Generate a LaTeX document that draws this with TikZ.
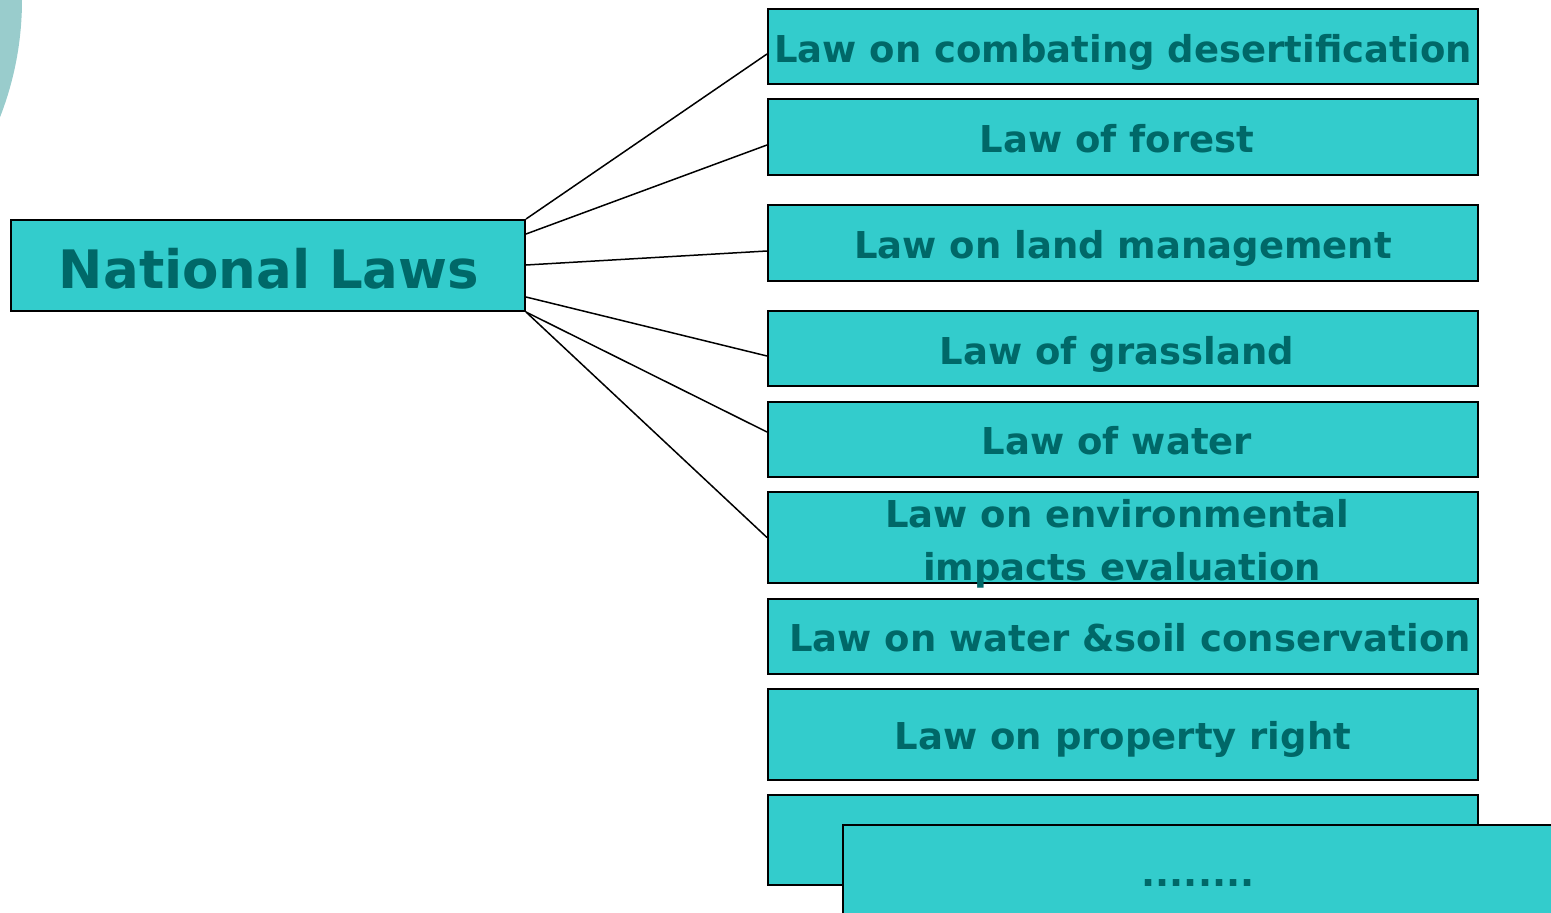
\documentclass[tikz,border=0pt]{standalone}
\usepackage{fontspec}
\setmainfont{DejaVu Sans}
\definecolor{boxfill}{RGB}{51,204,204}
\definecolor{boxtext}{RGB}{0,104,104}
\definecolor{circfill}{RGB}{153,204,204}
\begin{document}
\begin{tikzpicture}[x=1pt,y=-1pt,
  lawbox/.style={draw=black,line width=2pt,fill=boxfill,minimum width=710pt,inner sep=0pt,anchor=center},
  lawtext/.style={text=boxtext,font=\fontsize{37}{53}\selectfont\bfseries,inner sep=0pt,align=center,anchor=base},
  link/.style={draw=black,line width=1.5pt}]
\useasboundingbox (0,0) rectangle (1551,913);
\fill[circfill] (-300,0) circle (322);
\node[lawbox,minimum width=514pt,minimum height=91pt] (nl) at (268,265.5) {};
\node[lawtext,font=\fontsize{53}{60}\selectfont\bfseries] (nlt) at (269,288) {National Laws};
\node[lawbox,minimum height=75pt] (b1) at (1123,46.5) {};
\node[lawbox,minimum height=76pt] (b2) at (1123,137) {};
\node[lawbox,minimum height=76pt] (b3) at (1123,243) {};
\node[lawbox,minimum height=75pt] (b4) at (1123,348.5) {};
\node[lawbox,minimum height=75pt] (b5) at (1123,439.5) {};
\node[lawbox,minimum height=91pt] (b6) at (1123,537.5) {};
\node[lawbox,minimum height=75pt] (b7) at (1123,636.5) {};
\node[lawbox,minimum height=91pt] (b8) at (1123,734.5) {};
\node[lawbox,minimum height=90pt] (b9) at (1123,840) {};
\node[lawbox,minimum height=90pt,minimum width=720pt] (b10) at (1203,870) {};
\node[lawtext] (t1) at (1123,62) {Law on combating desertification};
\node[lawtext] (t2) at (1117,152) {Law of forest};
\node[lawtext] (t3) at (1123,258) {Law on land management};
\node[lawtext] (t4) at (1117,364) {Law of grassland};
\node[lawtext] (t5) at (1117,454) {Law of water};
\node[lawtext] (t6a) at (1117,527) {Law on environmental};
\node[lawtext] (t6b) at (1122,580) {impacts evaluation};
\node[lawtext] (t7) at (1130,651) {Law on water \&soil conservation};
\node[lawtext] (t8) at (1123,749) {Law on property right};
\node[lawtext] (t10) at (1198,886) {........};
\draw[link] (nl.north east) -- ([yshift=-7.5pt]b1.west);
\draw[link] ([yshift=-15pt]nl.north east) -- ([yshift=-8pt]b2.west);
\draw[link] ([yshift=0.5pt]nl.east) -- ([yshift=-8pt]b3.west);
\draw[link] ([yshift=15pt]nl.south east) -- ([yshift=-7.5pt]b4.west);
\draw[link] (nl.south east) -- ([yshift=7.5pt]b5.west);
\draw[link] (nl.south east) -- (b6.west);
\end{tikzpicture}
\end{document}
